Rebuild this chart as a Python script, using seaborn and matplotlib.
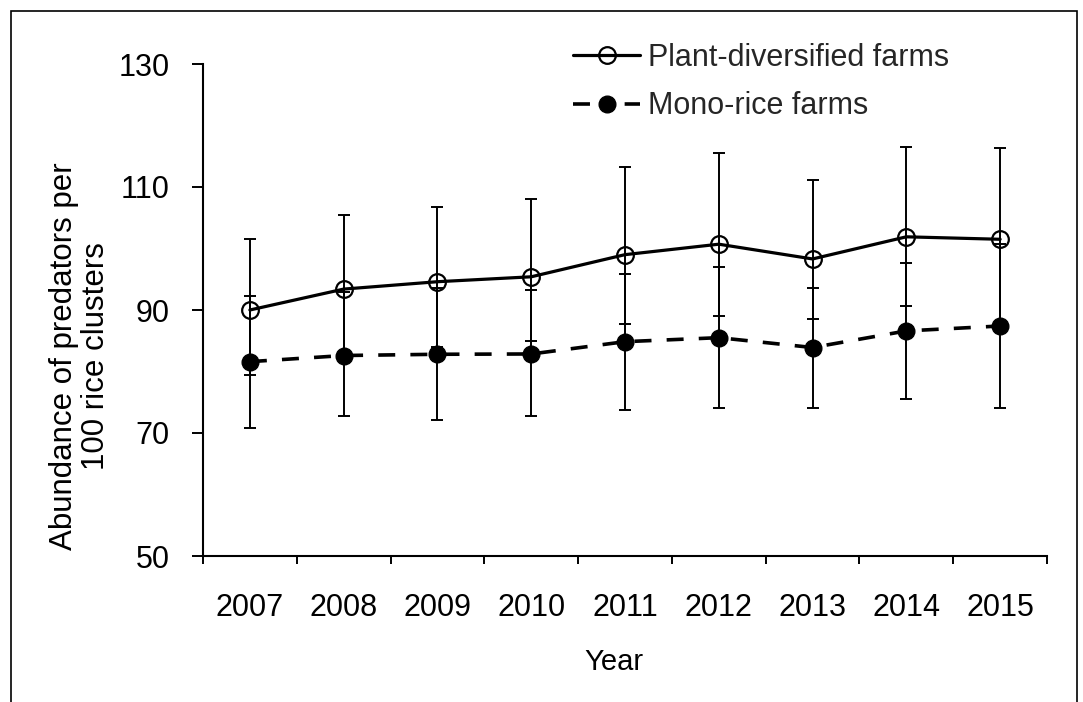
import numpy as np
import pandas as pd
import matplotlib
matplotlib.use("Agg")
import matplotlib.pyplot as plt
from matplotlib.patches import Rectangle
from matplotlib.lines import Line2D
import seaborn as sns

years = ["2007", "2008", "2009", "2010", "2011", "2012", "2013", "2014", "2015"]

div_label = "Plant-diversified farms"
div_mean = [90.0, 93.4, 94.6, 95.4, 99.0, 100.7, 98.3, 101.9, 101.5]
div_upper = [101.5, 105.5, 106.8, 108.1, 113.2, 115.6, 111.2, 116.5, 116.3]
div_lower = [79.4, 82.5, 84.0, 85.0, 87.8, 89.1, 88.5, 90.7, 87.5]

mono_label = "Mono-rice farms"
mono_mean = [81.6, 82.6, 82.8, 82.85, 84.85, 85.5, 83.9, 86.6, 87.4]
mono_upper = [92.2, 93.0, 93.6, 93.2, 95.8, 97.0, 93.5, 97.6, 100.8]
mono_lower = [70.8, 72.7, 72.1, 72.8, 73.7, 74.0, 74.0, 75.5, 74.0]

y_ticks = [50, 70, 90, 110, 130]

sns.set_theme(style="white")
plt.rcParams["font.family"] = ["Liberation Sans", "DejaVu Sans"]

W, H = 1083, 702
fig = plt.figure(figsize=(W / 100, H / 100), dpi=100)
ax = fig.add_axes([203 / W, 1 - 556 / H, (1047 - 203) / W, (556 - 64) / H])

xpos = np.arange(len(years))
df_div = pd.DataFrame({"x": xpos, "y": div_mean})
df_mono = pd.DataFrame({"x": xpos, "y": mono_mean})

sns.lineplot(data=df_div, x="x", y="y", ax=ax, color="black", lw=2.3,
             marker="o", ms=12, mfc="none", mec="black", mew=1.6,
             errorbar=None, zorder=3)
sns.lineplot(data=df_mono, x="x", y="y", ax=ax, color="black", lw=2.6,
             linestyle=(0, (4.7, 4.2)), marker="o", ms=12, mfc="black",
             mec="black", mew=1.0, errorbar=None, zorder=3)

for mean, up, lo in [(div_mean, div_upper, div_lower),
                     (mono_mean, mono_upper, mono_lower)]:
    m = np.array(mean)
    yerr = np.vstack([m - np.array(lo), np.array(up) - m])
    ax.errorbar(xpos, m, yerr=yerr, fmt="none", ecolor="black",
                elinewidth=1.4, capsize=4, capthick=1.4, zorder=4)

ax.set_xlim(-0.5, len(years) - 0.5)
ax.set_ylim(50, 130)
ax.set_yticks(y_ticks)
ax.set_yticklabels([str(v) for v in y_ticks])
ax.set_xticks(np.arange(-0.5, len(years), 1.0))
ax.set_xticklabels([])
ax.set_xticks(xpos, minor=True)
ax.set_xticklabels(years, minor=True)

ax.tick_params(axis="y", which="major", direction="out", length=8, width=1.4,
               color="black", pad=16, labelsize=22, labelcolor="black", left=True)
ax.tick_params(axis="x", which="major", direction="out", length=6, width=1.4,
               color="black", bottom=True)
ax.tick_params(axis="x", which="minor", length=0, pad=27, labelsize=22,
               labelcolor="black", bottom=True)

for side in ["top", "right"]:
    ax.spines[side].set_visible(False)
for side in ["left", "bottom"]:
    ax.spines[side].set_color("black")
    ax.spines[side].set_linewidth(1.5)
ax.grid(False)

ax.set_xlabel("Year", fontsize=21, color="black", va="center")
ax.xaxis.set_label_coords((614 - 203) / 844, (556 - 662) / 492)
ax.set_ylabel("Abundance of predators per\n100 rice clusters", fontsize=22.5,
              color="black", va="center", ha="center", multialignment="center",
              linespacing=1.1)
ax.yaxis.set_label_coords((80 - 203) / 844, (556 - 356) / 492)

h_div = Line2D([], [], color="black", lw=2.3, marker="o", ms=12, mfc="none",
               mec="black", mew=1.6)
h_mono = Line2D([], [], color="black", lw=2.6, linestyle=(0, (4.7, 9.6)),
                marker="o", ms=12, mfc="black", mec="black", mew=1.0)
ax.legend([h_div, h_mono], [div_label, mono_label], loc="upper left",
          bbox_to_anchor=(573 / W, 1 - 43 / H), bbox_transform=fig.transFigure,
          frameon=False, fontsize=22, handlelength=2.2, handletextpad=0.25,
          labelspacing=0.6, borderpad=0, borderaxespad=0)

fig.patches.append(Rectangle((11 / W, -0.05), (1077 - 11) / W, 1.05 - 11 / H,
                             transform=fig.transFigure, fill=False,
                             edgecolor="black", linewidth=1.2))

fig.savefig("out.png", dpi=100)
